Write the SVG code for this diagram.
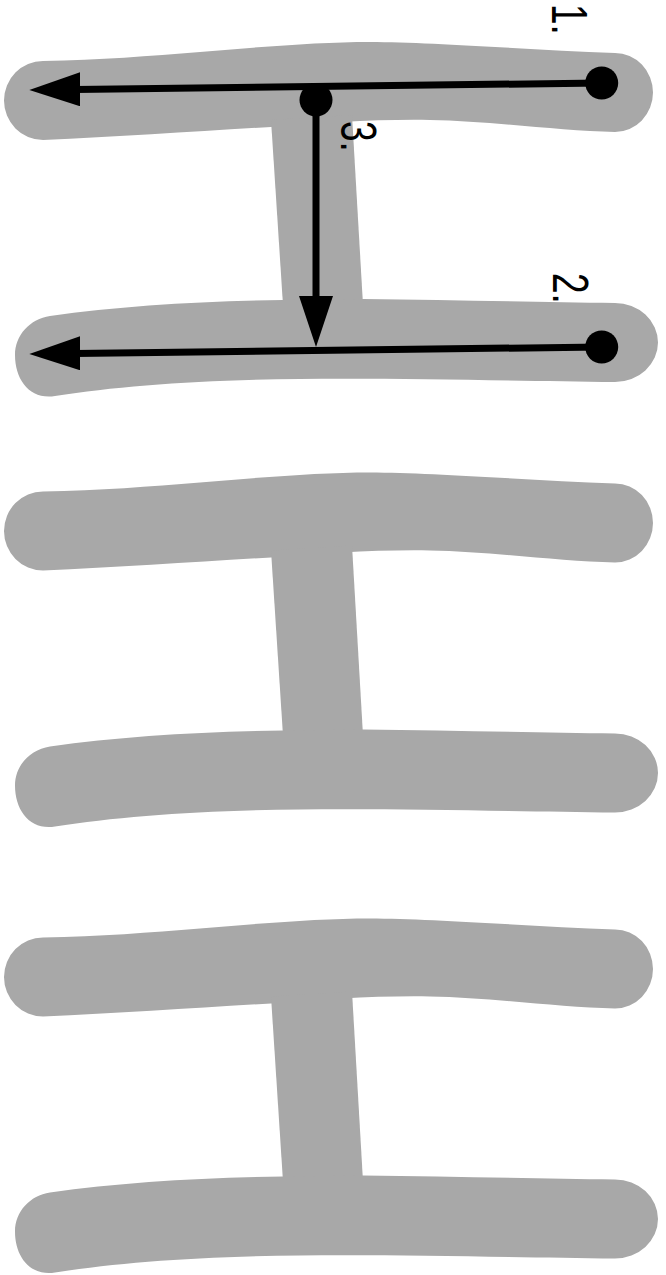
<svg xmlns="http://www.w3.org/2000/svg" xmlns:xlink="http://www.w3.org/1999/xlink" width="666" height="1275" viewBox="0 0 666 1275">
<style>
.glyph{fill:#a8a8a8;stroke:none}
.stroke-line{stroke:#000;stroke-width:7;fill:none}
.start{fill:#000}
.num{font-family:"Liberation Sans",Arial,sans-serif;font-size:37px;fill:#000}
</style>
<defs>
<marker id="arrow" markerUnits="userSpaceOnUse" viewBox="0 0 51 34" markerWidth="51" markerHeight="34" refX="5" refY="17" orient="auto">
<path d="M0,0 L51,17 L0,34 Z" fill="#000"/>
</marker>
<g id="kanji">
<path class="glyph" d="M 43 61 C 100 60, 150 56, 200 52 C 260 47, 320 42, 370 42 C 430 42, 530 50, 615 53 A 38 39.5 0 0 1 615 132 C 560 131, 490 121, 430 120 C 380 119, 320 123, 271 127 C 200 131, 120 137, 43 140 A 39 39.5 0 0 1 43 61 Z"/>
<polygon class="glyph" points="271,120 352,115 363,305 283,305"/>
<path class="glyph" d="M 50 316 C 120 306, 200 301, 283 300 L 363 299 C 450 300, 540 302, 615 303 A 43 39.5 0 0 1 615 382 C 520 381, 400 378, 300 379 C 200 380, 120 386, 55 396 C 30 400, 15 380, 15 355 C 15 335, 30 319, 50 316 Z"/>
</g>
</defs>
<g id="panel-1"><use xlink:href="#kanji" href="#kanji"/></g>
<g id="panel-2"><use xlink:href="#kanji" href="#kanji" transform="translate(0,430.5)"/></g>
<g id="panel-3"><use xlink:href="#kanji" href="#kanji" transform="translate(0,876.5)"/></g>
<g id="connectors">
<line class="stroke-line" x1="602" y1="83" x2="75.3" y2="89.4" marker-end="url(#arrow)"/>
<line class="stroke-line" x1="602" y1="347" x2="75.3" y2="353.4" marker-end="url(#arrow)"/>
<line class="stroke-line" x1="316" y1="100" x2="316" y2="301" marker-end="url(#arrow)"/>
<circle class="start" cx="601.7" cy="83" r="16.5"/>
<circle class="start" cx="601.7" cy="347" r="16.5"/>
<circle class="start" cx="316" cy="100" r="16.5"/>
</g>
<g id="labels">
<text class="num" transform="translate(552,4) rotate(90) scale(1,1.35)">1.</text>
<text class="num" transform="translate(553,273) rotate(90) scale(1,1.35)">2.</text>
<text class="num" transform="translate(341,121) rotate(90) scale(1,1.35)">3.</text>
</g>
</svg>
